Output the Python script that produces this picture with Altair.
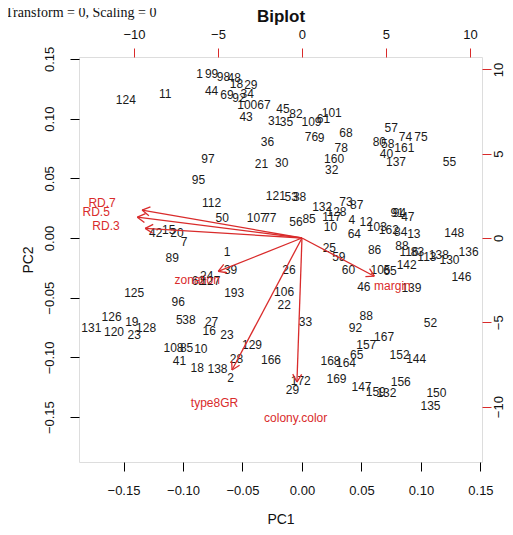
import altair as alt
import pandas as pd
import numpy as np

# ---- point scores (row labels, PC1, PC2) ----
labels = ["124", "11", "1", "99", "98", "48", "18", "29", "44", "69", "92", "34", "100", "67",
          "43", "31", "35", "45", "82", "109", "61", "101", "76", "9", "68", "78", "160", "32",
          "57", "74", "75", "80", "58", "161", "40", "137", "55", "36", "97", "21", "30", "95",
          "112", "50", "107", "77", "121", "53", "38", "42", "15", "20", "7", "89", "1", "39",
          "24", "127", "62", "125", "96", "193", "132", "128", "73", "87", "85", "56", "117", "10",
          "4", "12", "103", "162", "13", "94", "91", "47", "64", "84", "148", "25", "59", "86",
          "88", "116", "83", "113", "138", "130", "136", "60", "26", "105", "65", "142", "146",
          "46", "139", "106", "22", "126", "19", "131", "120", "23", "128", "5", "38", "27", "16",
          "23", "108", "85", "10", "41", "18", "138", "2", "28", "129", "166", "33", "88", "92",
          "167", "157", "65", "168", "164", "152", "144", "52", "172", "29", "169", "147", "159",
          "132", "156", "150", "135"]
pc1 = [-0.148, -0.115, -0.086, -0.076, -0.066, -0.057, -0.055, -0.043, -0.076, -0.063, -0.053,
       -0.046, -0.046, -0.032, -0.047, -0.023, -0.013, -0.016, -0.005, 0.008, 0.018, 0.025, 0.008,
       0.016, 0.037, 0.033, 0.027, 0.025, 0.075, 0.087, 0.100, 0.065, 0.072, 0.086, 0.071, 0.079,
       0.124, -0.029, -0.079, -0.034, -0.017, -0.087, -0.076, -0.067, -0.038, -0.027, -0.022,
       -0.009, -0.002, -0.123, -0.112, -0.105, -0.099, -0.109, -0.063, -0.060, -0.080, -0.077,
       -0.087, -0.141, -0.104, -0.057, 0.017, 0.029, 0.037, 0.046, 0.006, -0.005, 0.025, 0.024,
       0.042, 0.054, 0.063, 0.073, 0.094, 0.082, 0.080, 0.089, 0.044, 0.083, 0.128, 0.023, 0.031,
       0.061, 0.084, 0.090, 0.097, 0.105, 0.115, 0.124, 0.140, 0.039, -0.011, 0.066, 0.074, 0.088,
       0.134, 0.052, 0.092, -0.015, -0.015, -0.160, -0.143, -0.177, -0.158, -0.141, -0.131, -0.103,
       -0.095, -0.076, -0.078, -0.063, -0.108, -0.097, -0.085, -0.103, -0.088, -0.071, -0.060,
       -0.055, -0.042, -0.026, 0.003, 0.054, 0.045, 0.069, 0.054, 0.046, 0.024, 0.037, 0.082,
       0.096, 0.108, -0.001, -0.008, 0.029, 0.050, 0.062, 0.071, 0.083, 0.113, 0.108]
pc2 = [0.116, 0.121, 0.137, 0.137, 0.135, 0.134, 0.129, 0.128, 0.123, 0.120, 0.117, 0.121, 0.111,
       0.111, 0.101, 0.098, 0.097, 0.108, 0.104, 0.097, 0.100, 0.105, 0.085, 0.084, 0.088, 0.075,
       0.066, 0.057, 0.092, 0.085, 0.085, 0.080, 0.079, 0.075, 0.070, 0.064, 0.064, 0.080, 0.066,
       0.062, 0.063, 0.049, 0.029, 0.017, 0.017, 0.017, 0.035, 0.034, 0.034, 0.004, 0.007, 0.004,
       -0.003, -0.017, -0.012, -0.027, -0.032, -0.036, -0.036, -0.046, -0.054, -0.046, 0.026,
       0.022, 0.030, 0.028, 0.016, 0.013, 0.018, 0.009, 0.015, 0.013, 0.009, 0.007, 0.003, 0.021,
       0.021, 0.018, 0.003, 0.005, 0.004, -0.008, -0.016, -0.010, -0.007, -0.012, -0.012, -0.016,
       -0.014, -0.018, -0.012, -0.027, -0.027, -0.027, -0.028, -0.023, -0.033, -0.041, -0.042,
       -0.045, -0.056, -0.066, -0.070, -0.075, -0.079, -0.081, -0.075, -0.069, -0.069, -0.070,
       -0.078, -0.081, -0.092, -0.092, -0.093, -0.103, -0.109, -0.110, -0.117, -0.101, -0.090,
       -0.102, -0.070, -0.065, -0.075, -0.083, -0.090, -0.098, -0.103, -0.105, -0.098, -0.101,
       -0.071, -0.120, -0.127, -0.118, -0.125, -0.129, -0.130, -0.121, -0.130, -0.141]

# ---- variable loadings (label positions); arrows drawn to 0.8 x loading ----
var_names = ["RD.7", "RD.5", "RD.3", "zonation", "margin", "type8GR", "colony.color"]
load_pc1 = [-0.168, -0.173, -0.1647, -0.088, 0.076, -0.0735, -0.0053]
load_pc2 = [0.0293, 0.0218, 0.0101, -0.035, -0.040, -0.1382, -0.1508]

sec_ticks = [-10, -5, 0, 5, 10]

XDOM = [-0.1874, 0.1513]
YDOM = [-0.1876, 0.1516]
SEC = 0.01412  # primary units per secondary unit
RED = "#d92b2b"
FONT = "Liberation Sans"

pts = pd.DataFrame({"label": labels, "PC1": pc1, "PC2": pc2})
load = pd.DataFrame({"var": var_names, "PC1": load_pc1, "PC2": load_pc2})
load["x0"] = 0.0
load["y0"] = 0.0
load["tx"] = load["PC1"] * 0.8
load["ty"] = load["PC2"] * 0.8

# open arrow heads (two short strokes at each tip)
heads = []
L = 0.0075
for _, r in load.iterrows():
    n = np.hypot(r.tx, r.ty)
    bx, by = -r.tx / n, -r.ty / n
    for a in (np.pi / 6, -np.pi / 6):
        hx = bx * np.cos(a) - by * np.sin(a)
        hy = bx * np.sin(a) + by * np.cos(a)
        heads.append({"x0": r.tx, "y0": r.ty, "tx": r.tx + L * hx, "ty": r.ty + L * hy})
heads = pd.DataFrame(heads)

sec = pd.DataFrame({"v": sec_ticks})

xscale = alt.Scale(domain=XDOM, nice=False, zero=False)
yscale = alt.Scale(domain=YDOM, nice=False, zero=False)
xaxis = alt.Axis(title="PC1", values=[-0.15, -0.10, -0.05, 0.0, 0.05, 0.10, 0.15], format=".2f",
                 grid=False, domain=False, tickColor="black", tickSize=9, labelPadding=13,
                 labelFontSize=13, titleFontSize=14, titleFontWeight="normal", titlePadding=15,
                 labelColor="#111", titleColor="#111", labelFont=FONT, titleFont=FONT)
yaxis = alt.Axis(title="PC2", values=[-0.15, -0.10, -0.05, 0.0, 0.05, 0.10, 0.15], format=".2f",
                 grid=False, domain=False, tickColor="black", tickSize=9, labelPadding=14,
                 labelAngle=270, labelFontSize=13, titleFontSize=14, titleFontWeight="normal",
                 titlePadding=8, labelColor="#111", titleColor="#111", labelFont=FONT, titleFont=FONT)

text = alt.Chart(pts).mark_text(font=FONT, fontSize=12, color="#1a1a1a").encode(
    x=alt.X("PC1:Q", scale=xscale, axis=xaxis),
    y=alt.Y("PC2:Q", scale=yscale, axis=yaxis),
    text="label:N",
)
arrows = alt.Chart(load).mark_rule(color=RED, strokeWidth=1.3).encode(
    x=alt.X("x0:Q", scale=xscale, axis=xaxis),
    y=alt.Y("y0:Q", scale=yscale, axis=yaxis),
    x2="tx:Q", y2="ty:Q",
)
arrowheads = alt.Chart(heads).mark_rule(color=RED, strokeWidth=1.3).encode(
    x=alt.X("x0:Q", scale=xscale, axis=xaxis),
    y=alt.Y("y0:Q", scale=yscale, axis=yaxis),
    x2="tx:Q", y2="ty:Q",
)
varlab = alt.Chart(load).mark_text(font=FONT, fontSize=12, color=RED).encode(
    x=alt.X("PC1:Q", scale=xscale, axis=xaxis),
    y=alt.Y("PC2:Q", scale=yscale, axis=yaxis),
    text="var:N",
)
primary = alt.layer(text, arrows, arrowheads, varlab)

secondary = alt.Chart(sec).mark_point(opacity=0).encode(
    x=alt.X("v:Q", scale=alt.Scale(domain=[XDOM[0] / SEC, XDOM[1] / SEC], nice=False, zero=False),
            axis=alt.Axis(orient="top", values=sec_ticks, title="Biplot", grid=False, domain=False,
                          tickColor=RED, tickSize=9, labelPadding=7, labelFontSize=13,
                          labelColor="#111", labelFont=FONT, titleFont=FONT, titleFontSize=17,
                          titleFontWeight="bold", titleColor="#111", titlePadding=3)),
    y=alt.Y("v:Q", scale=alt.Scale(domain=[YDOM[0] / SEC, YDOM[1] / SEC], nice=False, zero=False),
            axis=alt.Axis(orient="right", values=sec_ticks, title=None, grid=False, domain=False,
                          tickColor=RED, tickSize=9, labelPadding=1, labelAngle=270,
                          labelFontSize=13, labelColor="#111", labelFont=FONT)),
)

chart = alt.layer(primary, secondary).resolve_scale(
    x="independent", y="independent"
).properties(
    width=403,
    height=405,
    title=alt.TitleParams("Transform = 0, Scaling = 0", anchor="start", frame="bounds",
                          font="Liberation Serif", fontSize=14, fontWeight="normal",
                          color="#111", dx=-16, dy=17),
    autosize=alt.AutoSizeParams(type="none"),
    padding={"left": 71, "top": 49, "right": 23, "bottom": 65},
).configure_view(stroke="black", strokeWidth=1.2).configure(background="white")

chart.save("out.html", embed_options={"renderer": "svg", "actions": False})
